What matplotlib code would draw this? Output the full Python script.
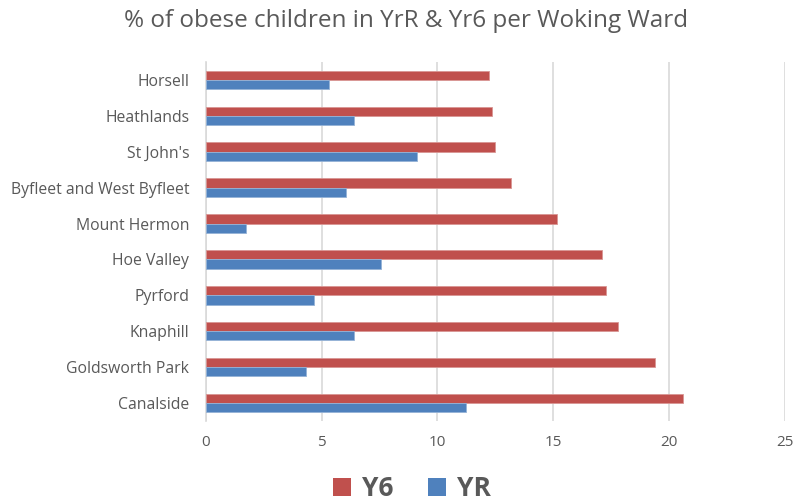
import matplotlib
matplotlib.use("Agg")
import matplotlib.pyplot as plt
import numpy as np
from matplotlib.patches import Patch

wards = ["Horsell", "Heathlands", "St John's", "Byfleet and West Byfleet", "Mount Hermon",
         "Hoe Valley", "Pyrford", "Knaphill", "Goldsworth Park", "Canalside"]
y6 = [12.25, 12.34, 12.47, 13.16, 15.18, 17.1, 17.29, 17.81, 19.39, 20.6]
yr = [5.33, 6.41, 9.13, 6.05, 1.75, 7.57, 4.65, 6.41, 4.33, 11.25]
xticks = [0, 5, 10, 15, 20, 25]

plt.rcParams['font.family'] = ['Open Sans', 'DejaVu Sans']
txt = '#595959'
red = '#C0504D'
blue = '#4F81BD'

fig = plt.figure(figsize=(7.95, 5.01), dpi=100)
ax = fig.add_axes([0.259, 0.160, 0.728, 0.716])

n = len(wards)
pos = np.arange(n)[::-1]
h = 0.26
ax.barh(pos + h / 2, y6, height=h, color=red, edgecolor='#D99694', linewidth=0.6, label='Y6', zorder=3)
ax.barh(pos - h / 2, yr, height=h, color=blue, edgecolor='#95B3D7', linewidth=0.6, label='YR', zorder=3)

ax.set_xlim(0, 25)
ax.set_ylim(-0.5, n - 0.5)
ax.set_xticks(xticks)
ax.set_xticklabels([str(t) for t in xticks], color=txt, fontsize=11)
ax.set_yticks(pos)
ax.set_yticklabels(wards, color=txt, fontsize=11.3)
ax.tick_params(axis='x', length=0, pad=10)
ax.tick_params(axis='y', length=0, pad=12)
ax.xaxis.grid(True, color='#D9D9D9', linewidth=1.2, zorder=0)
for s in ['top', 'right', 'bottom']:
    ax.spines[s].set_visible(False)
ax.spines['left'].set_color('#D9D9D9')
ax.spines['left'].set_linewidth(1.2)

fig.suptitle("% of obese children in YrR & Yr6 per Woking Ward", color=txt, fontsize=17.5,
             x=0.511, y=0.982)

handles = [Patch(facecolor=red, label='Y6'), Patch(facecolor=blue, label='YR')]
leg = fig.legend(handles=handles, loc='center', bbox_to_anchor=(0.518, 0.024), ncol=2, frameon=False,
                 prop={'size': 19, 'weight': 'bold'}, handlelength=0.7, handleheight=0.7,
                 handletextpad=0.4, columnspacing=1.3)
for t in leg.get_texts():
    t.set_color(txt)

fig.savefig("out.png", dpi=100)
